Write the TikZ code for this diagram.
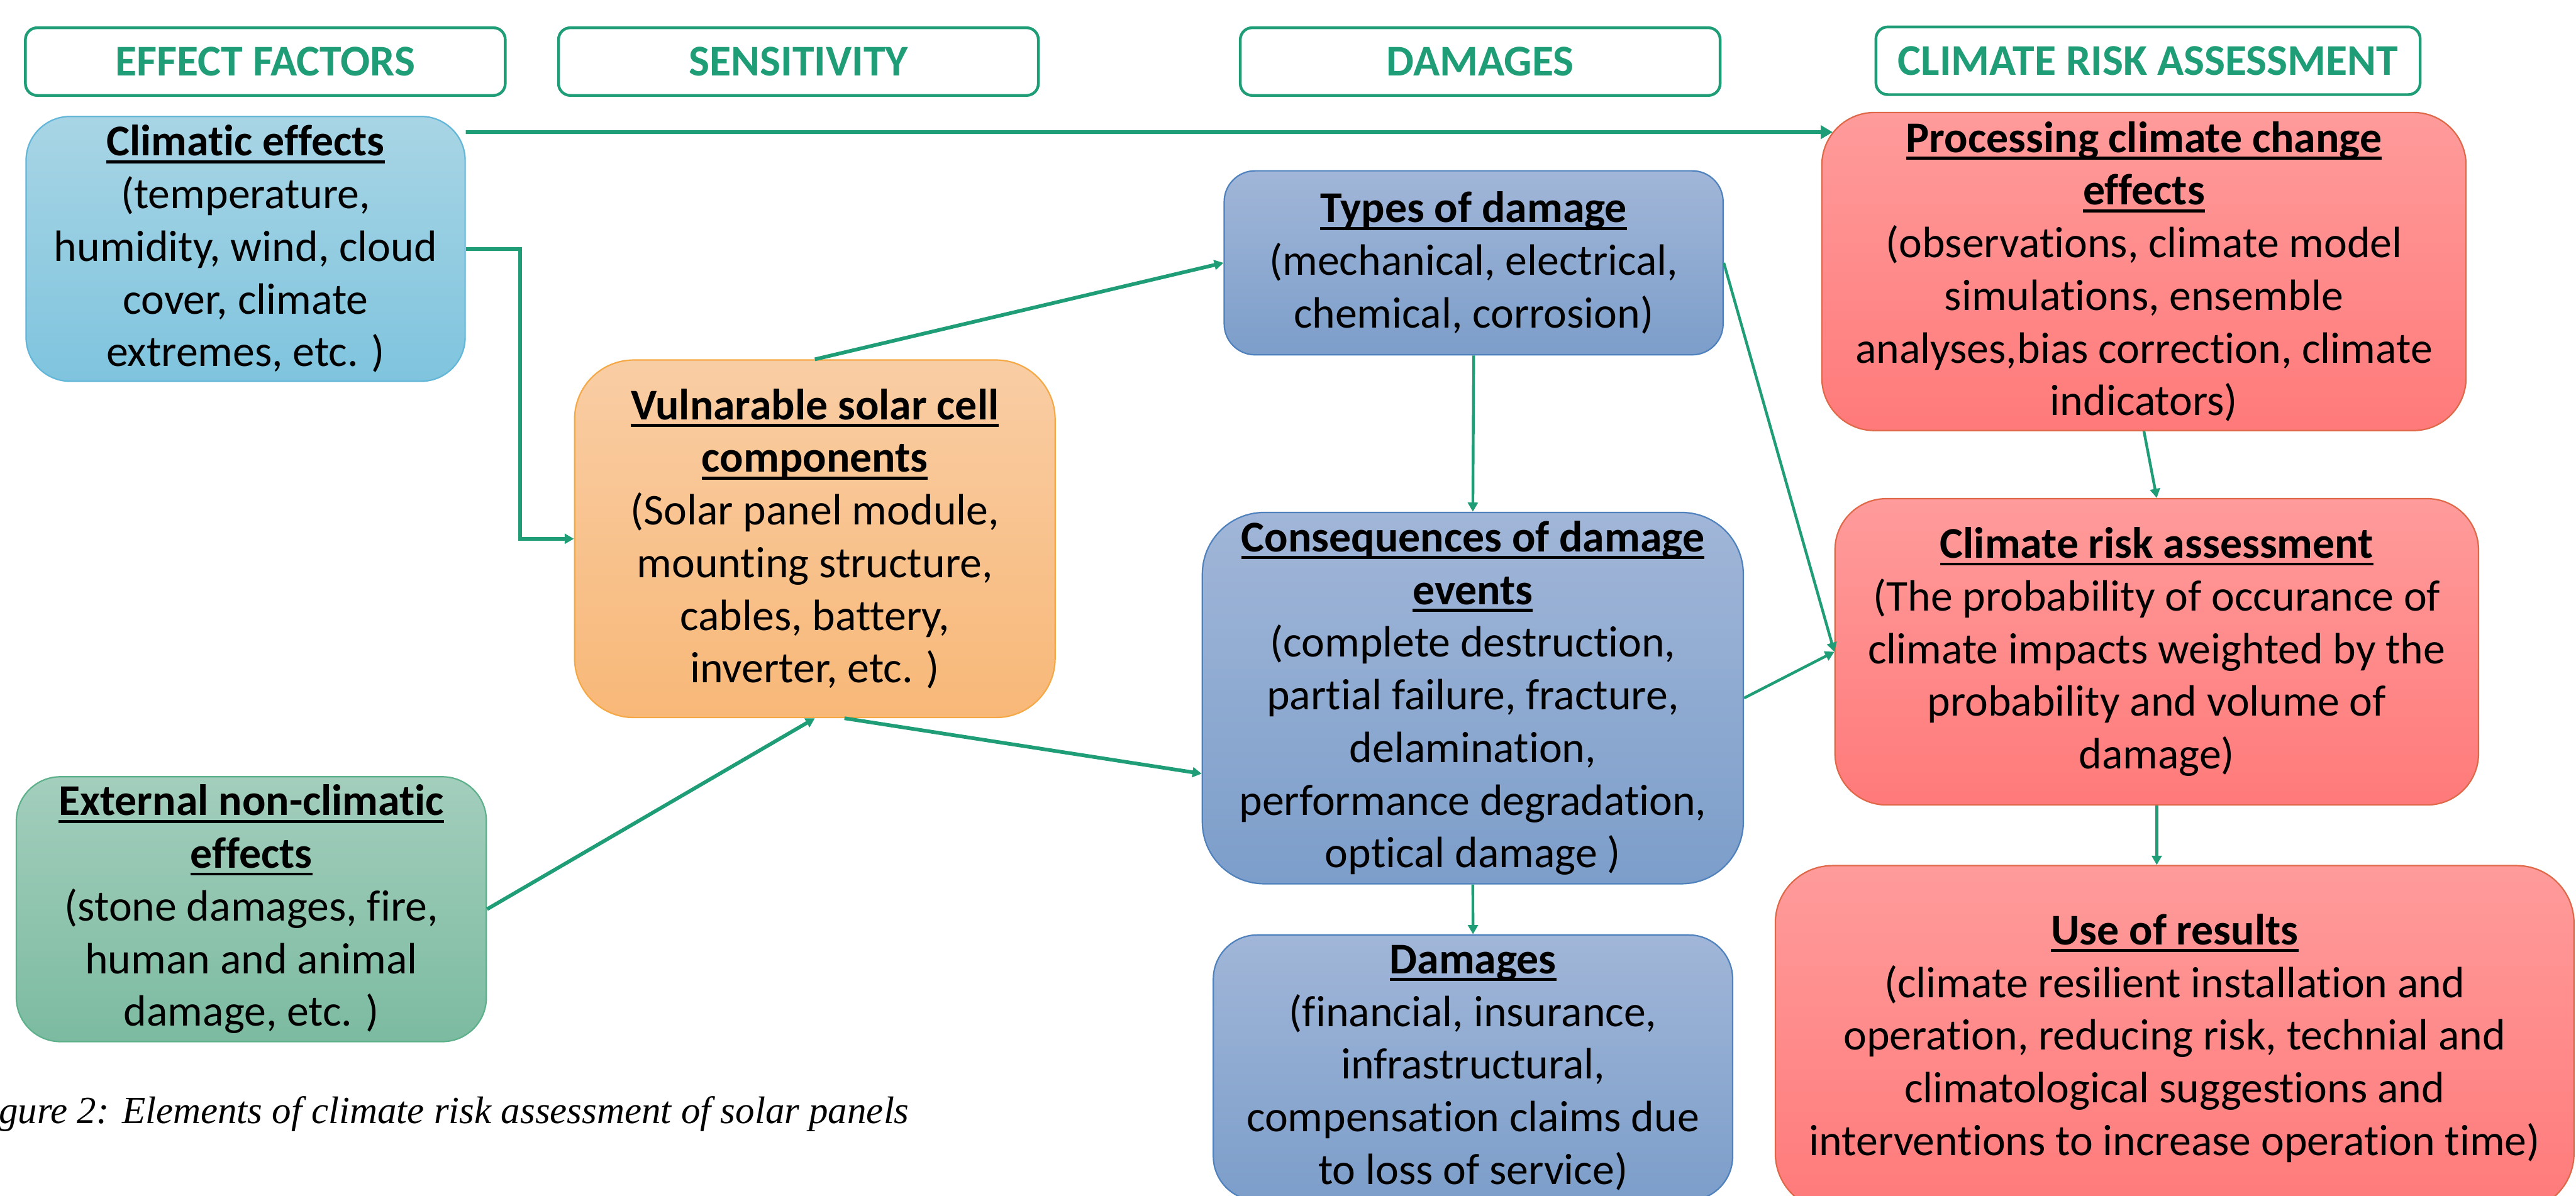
\documentclass[tikz,border=0pt]{standalone}
\usepackage{fontspec}
\setmainfont{Carlito}[Ligatures=NoCommon]
\newfontfamily\capfont{Liberation Serif}
\usepackage{xcolor}
\usepackage{tikz}
\usetikzlibrary{arrows.meta, calc, positioning}

\definecolor{flowgreen}{RGB}{31,157,119}
\definecolor{climtop}{RGB}{168,213,229}
\definecolor{climbot}{RGB}{127,196,222}
\definecolor{climline}{RGB}{98,182,216}
\definecolor{vulntop}{RGB}{249,205,164}
\definecolor{vulnbot}{RGB}{248,184,120}
\definecolor{vulnline}{RGB}{245,168,70}
\definecolor{exttop}{RGB}{163,206,189}
\definecolor{extbot}{RGB}{124,187,161}
\definecolor{extline}{RGB}{92,176,138}
\definecolor{bluetop}{RGB}{161,182,216}
\definecolor{bluebot}{RGB}{124,158,202}
\definecolor{blueline}{RGB}{79,129,189}
\definecolor{redtop}{RGB}{255,155,155}
\definecolor{redbot}{RGB}{255,122,122}
\definecolor{redline}{RGB}{222,104,72}

\newsavebox\ulbox
\newcommand{\ultitle}[1]{\sbox\ulbox{\bfseries #1}\usebox\ulbox\llap{\rule[-0.17em]{\wd\ulbox}{0.07em}}}

\tikzset{
    flow/.style={-{Triangle[length=0.14cm, width=0.15cm]}, draw=flowgreen, line width=1.2pt},
    bigflow/.style={flow, line width=1.6pt},
    head/.style={draw=flowgreen, line width=1.2pt, fill=white, rounded corners=0.18cm, minimum width=7.3cm, minimum height=1.03cm, text=flowgreen, font=\fontsize{19}{22.8}\selectfont\bfseries},
    card/.style={draw, line width=0.6pt, align=center, inner sep=0pt, font=\fontsize{19}{22.8}\selectfont},
    climcard/.style={card, top color=climtop, bottom color=climbot, draw=climline},
    vulncard/.style={card, top color=vulntop, bottom color=vulnbot, draw=vulnline},
    extcard/.style={card, top color=exttop, bottom color=extbot, draw=extline},
    bluecard/.style={card, top color=bluetop, bottom color=bluebot, draw=blueline},
    redcard/.style={card, top color=redtop, bottom color=redbot, draw=redline}
}

\begin{document}
\begin{tikzpicture}[x=0.025cm, y=-0.025cm]
    \useasboundingbox (0,0) rectangle (1568,727.8);
    \clip (0,0) rectangle (1568,727.8);

    % column headers
    \node (hEff) [head] at (161.5,37.5) {EFFECT FACTORS};
    \node (hSen) [head] at (486,37.5) {SENSITIVITY};
    \node (hDam) [head] at (901,37.5) {DAMAGES};
    \node (hCra) [head, minimum width=8.28cm] at (1307.5,37) {CLIMATE RISK ASSESSMENT};

    % effect factors
    \node (clim) [climcard, minimum width=6.68cm, minimum height=4.03cm, rounded corners=0.67cm] at (149.5,151.5) {\ultitle{Climatic effects}\\(temperature,\\humidity, wind, cloud\\cover, climate\\extremes, etc. )};
    \node (ext) [extcard, minimum width=7.15cm, minimum height=4.03cm, rounded corners=0.67cm] at (153,553.5) {\ultitle{External non-climatic}\\\ultitle{effects}\\(stone damages, fire,\\human and animal\\damage, etc. )};

    % sensitivity
    \node (vuln) [vulncard, minimum width=7.31cm, minimum height=5.44cm, rounded corners=0.9cm] at (496,328) {\ultitle{Vulnarable solar cell}\\\ultitle{components}\\(Solar panel module,\\mounting structure,\\cables, battery,\\inverter, etc. )};

    % damages
    \node (types) [bluecard, minimum width=7.59cm, minimum height=2.8cm, rounded corners=0.47cm] at (897,160) {\ultitle{Types of damage}\\(mechanical, electrical,\\chemical, corrosion)};
    \node (cons) [bluecard, minimum width=8.23cm, minimum height=5.65cm, rounded corners=0.94cm] at (896.5,425) {\ultitle{Consequences of damage}\\\ultitle{events}\\(complete destruction,\\partial failure, fracture,\\delamination,\\performance degradation,\\optical damage )};
    \node (dmg) [bluecard, minimum width=7.9cm, minimum height=4.04cm, rounded corners=0.67cm] at (896.6,650) {\ultitle{Damages}\\(financial, insurance,\\infrastructural,\\compensation claims due\\to loss of service)};

    % climate risk assessment
    \node (proc) [redcard, minimum width=9.8cm, minimum height=4.84cm, rounded corners=0.8cm] at (1305,165.3) {\ultitle{Processing climate change}\\\ultitle{effects}\\(observations, climate model\\simulations, ensemble\\analyses,bias correction, climate\\indicators)};
    \node (cra) [redcard, minimum width=9.79cm, minimum height=4.66cm, rounded corners=0.78cm] at (1312.8,396.8) {\ultitle{Climate risk assessment}\\(The probability of occurance of\\climate impacts weighted by the\\probability and volume of\\damage)};
    \node (use) [redcard, minimum width=12.15cm, minimum height=5.25cm, rounded corners=0.87cm] at (1323.7,632) {\ultitle{Use of results}\\(climate resilient installation and\\operation, reducing risk, technial and\\climatological suggestions and\\interventions to increase operation time)};

    \node (cap) [anchor=base west, inner sep=0pt, font=\capfont\itshape\fontsize{16.6}{20}\selectfont] at (-1,684) {\llap{Fi}gure 2: Elements of climate risk assessment of solar panels};

    % connectors
    \draw [bigflow, -{Triangle[length=0.18cm, width=0.2cm]}] ($(clim.north east)+(0,10)$) -- ($(proc.north west)+(7,12.4)$);
    \draw [bigflow] (clim.east) -- ++(33,0) |- (vuln.west);
    \draw [bigflow] (vuln.north) -- (types.west);
    \draw [bigflow] (ext.east) -- (vuln.south);
    \draw [bigflow] ($(vuln.south)+(18,0)$) -- ($(cons.west)+(0,46)$);
    \draw [flow] (types.south) -- (cons.north);
    \draw [flow] (types.east) -- (cra.west);
    \draw [flow] (cons.east) -- (cra.west);
    \draw [flow] (proc.south) -- (cra.north);
    \draw [flow] (cra.south) -- (cra.south |- use.north);
    \draw [flow] (cons.south) -- (dmg.north);
\end{tikzpicture}
\end{document}
